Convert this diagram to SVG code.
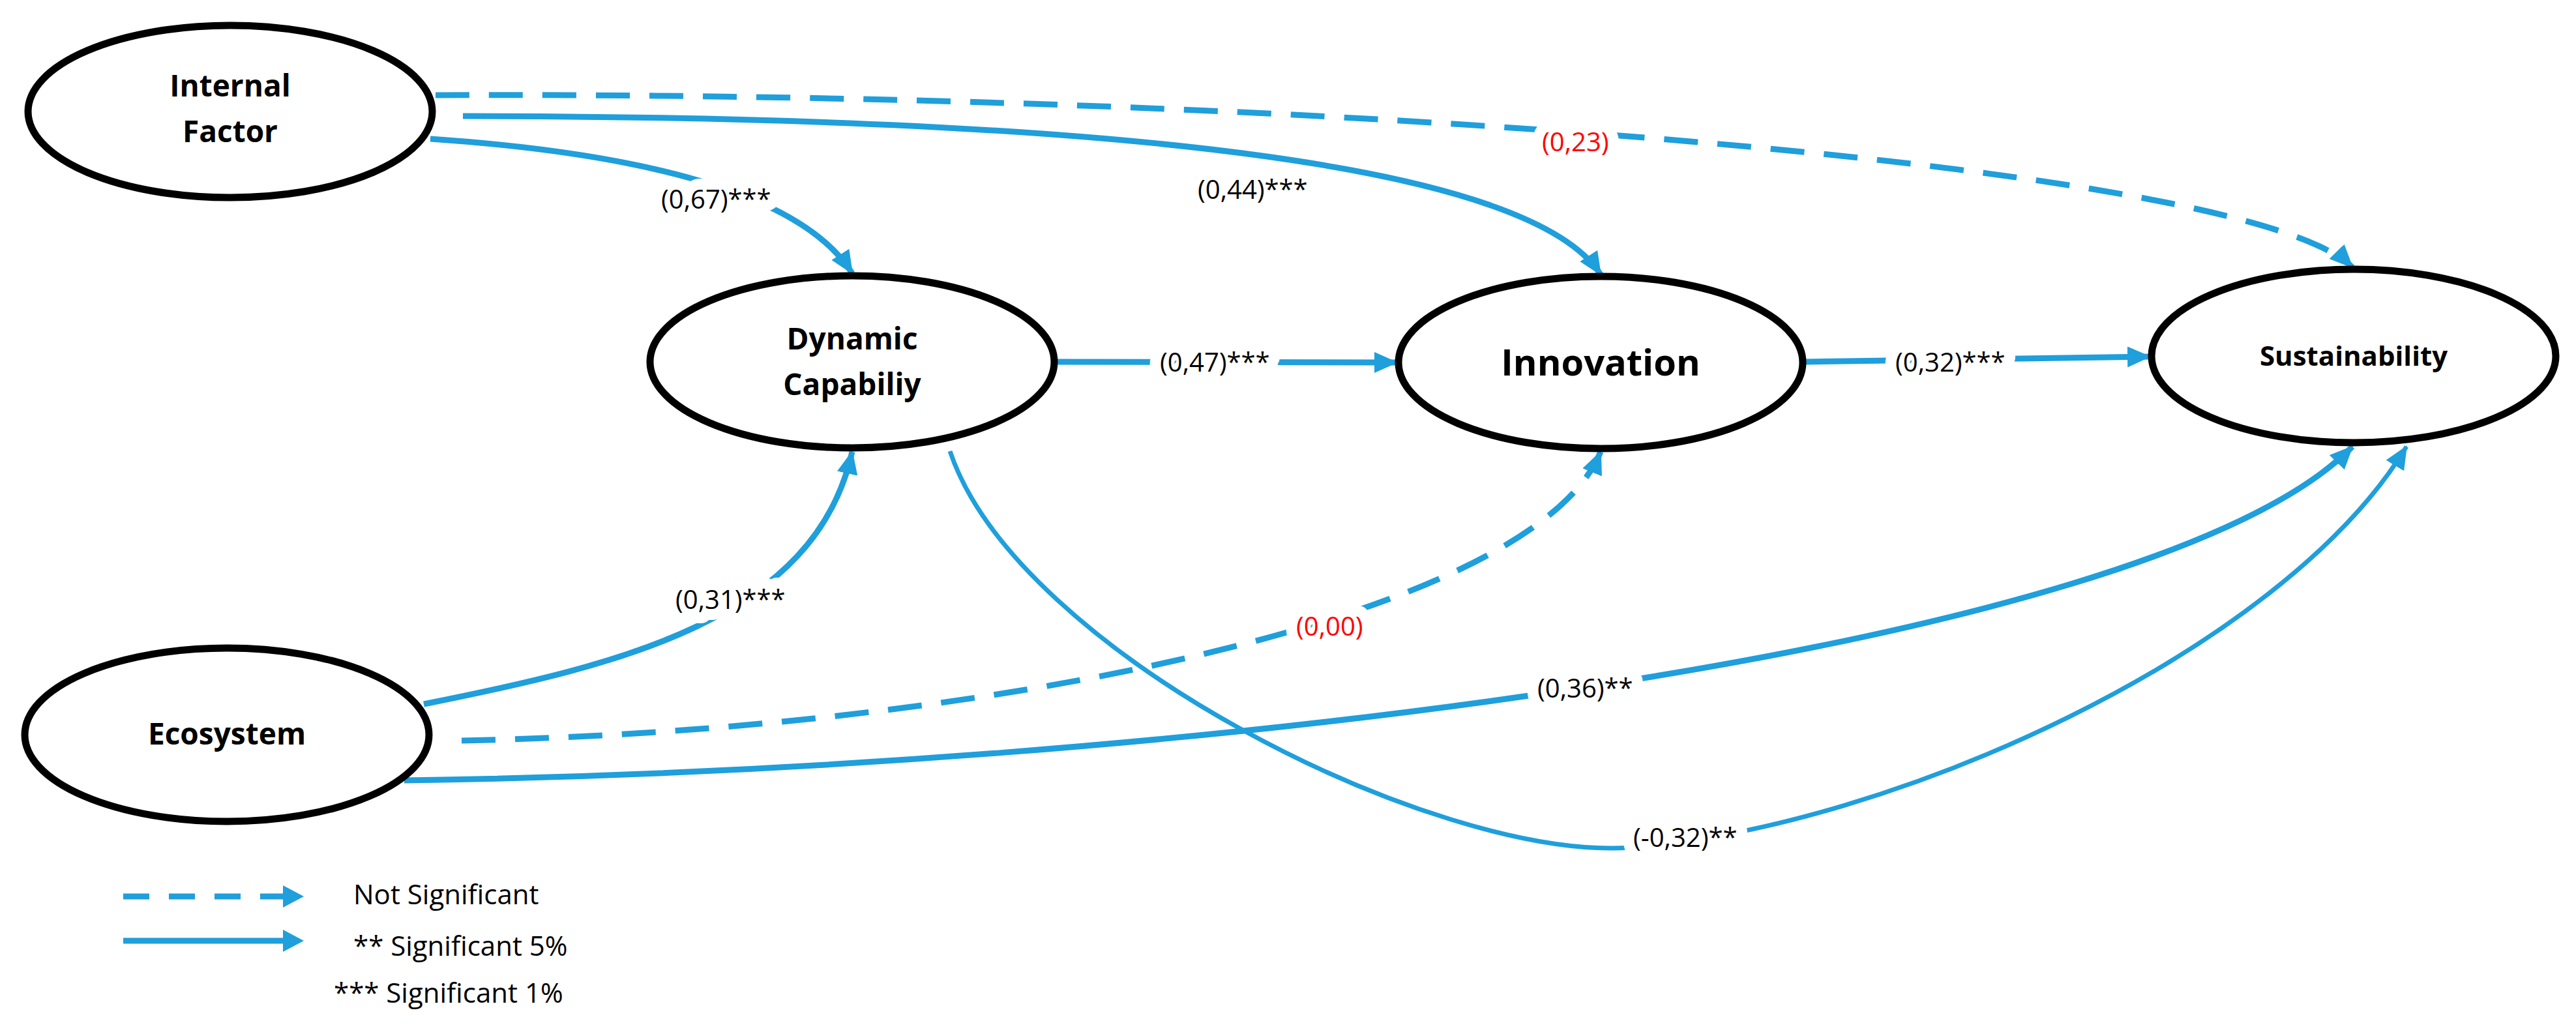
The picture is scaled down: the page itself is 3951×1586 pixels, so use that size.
<svg xmlns="http://www.w3.org/2000/svg" width="3951" height="1586" viewBox="0 0 3951 1586">
<style>
.node{fill:#fff;stroke:#000;stroke-width:11}
.nt{font-family:"Open Sans","Liberation Sans",sans-serif;font-weight:bold;font-size:46px;text-anchor:middle;fill:#000}
.e{fill:none;stroke:#1f9fdb;stroke-width:9}
.thin{stroke-width:7}
.d{stroke-dasharray:52 30}
.lab{font-family:"Open Sans","Liberation Sans",sans-serif;font-size:40px;fill:#000;stroke:#fff;stroke-width:34;paint-order:stroke;stroke-linejoin:round}
.red{fill:#ff0000}
.leg{font-family:"Open Sans","Liberation Sans",sans-serif;font-size:42px;fill:#000}
</style>
<defs>
<marker id="ah" markerUnits="userSpaceOnUse" markerWidth="36" markerHeight="32" refX="34" refY="16" orient="auto"><path d="M0,0 L36,16 L0,32 z" fill="#1f9fdb"/></marker>
</defs>
<g id="connectors">
<path class="e" d="M660,213 Q1200,250 1307,419" marker-end="url(#ah)"/>
<path class="e" d="M710,178 Q2300,180 2455,421" marker-end="url(#ah)"/>
<path class="e d" d="M668,146 C2000,140 3450,250 3608,410" marker-end="url(#ah)"/>
<path class="e" d="M1622,555 L2142,556" marker-end="url(#ah)"/>
<path class="e" d="M2768,555 L3297,547" marker-end="url(#ah)"/>
<path class="e" d="M650,1080 C950,1020 1250,950 1307,693" marker-end="url(#ah)"/>
<path class="e d" d="M708,1136 C1500,1120 2350,950 2455,693" marker-end="url(#ah)"/>
<path class="e" d="M620,1197 C1800,1180 3300,1000 3608,685" marker-end="url(#ah)"/>
<path class="e thin" d="M1457,692 C1560,1000 2200,1320 2500,1300 C2900,1270 3500,1000 3691,685" marker-end="url(#ah)"/>
<text class="lab" x="1014" y="320">(0,67)***</text>
<text class="lab" x="1837" y="305">(0,44)***</text>
<text class="lab red" x="2365" y="232">(0,23)</text>
<text class="lab" x="1779" y="570">(0,47)***</text>
<text class="lab" x="2907" y="570">(0,32)***</text>
<text class="lab" x="1036" y="934">(0,31)***</text>
<text class="lab red" x="1988" y="975">(0,00)</text>
<text class="lab" x="2358" y="1070">(0,36)**</text>
<text class="lab" x="2505" y="1299">(-0,32)**</text>
</g>
<g id="internal-factor"><ellipse class="node" cx="353" cy="171" rx="310" ry="132"/><text class="nt" x="353" y="148">Internal</text><text class="nt" x="353" y="218">Factor</text></g>
<g id="dynamic-capability"><ellipse class="node" cx="1307" cy="555" rx="310" ry="132"/><text class="nt" x="1307" y="536">Dynamic</text><text class="nt" x="1307" y="606">Capabiliy</text></g>
<g id="innovation"><ellipse class="node" cx="2455" cy="556" rx="310" ry="132"/><text class="nt" x="2455" y="576" style="font-size:56px">Innovation</text></g>
<g id="sustainability"><ellipse class="node" cx="3610" cy="546" rx="310" ry="133"/><text class="nt" x="3610" y="561" style="font-size:42px">Sustainability</text></g>
<g id="ecosystem"><ellipse class="node" cx="348" cy="1127" rx="310" ry="133"/><text class="nt" x="348" y="1142">Ecosystem</text></g>
<g id="legend">
<path class="e d" d="M189,1375 L434,1375" style="stroke-dasharray:40 30"/>
<path d="M434,1358 L466,1375 L434,1392 z" fill="#1f9fdb"/>
<path class="e" d="M189,1443 L436,1443"/>
<path d="M434,1426 L466,1443 L434,1460 z" fill="#1f9fdb"/>
<text class="leg" x="542" y="1387">Not Significant</text>
<text class="leg" x="542" y="1466">** Significant 5%</text>
<text class="leg" x="512" y="1538">*** Significant 1%</text>
</g>
</svg>
